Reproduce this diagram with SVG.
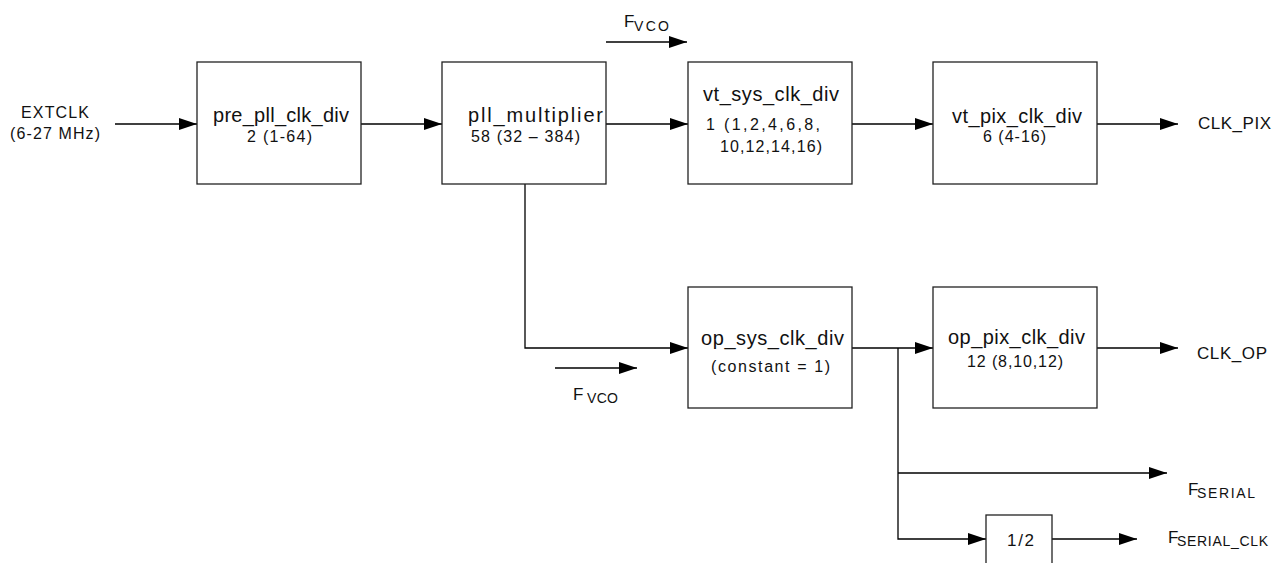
<svg xmlns="http://www.w3.org/2000/svg" width="1281" height="563" viewBox="0 0 1281 563">
<defs>
<marker id="ah" markerUnits="userSpaceOnUse" markerWidth="18" markerHeight="12" refX="18" refY="6" orient="auto">
<path d="M0,0 L18,6 L0,12 Z" fill="#000"/>
</marker>
<style>
.box{fill:#fff;stroke:#222;stroke-width:1.3}
.c{fill:none;stroke:#000;stroke-width:1.3;marker-end:url(#ah)}
text{font-family:"Liberation Sans","Open Sans",sans-serif;fill:#111}
.t1{font-size:20px}
.t2{font-size:16px}
.lb{font-size:17px}
.sub{font-size:14px}
</style>
</defs>
<rect width="1281" height="563" fill="#fff"/>
<g id="connectors">
<line class="c" x1="115" y1="124" x2="197" y2="124"/>
<line class="c" x1="361" y1="124" x2="442" y2="124"/>
<line class="c" x1="606" y1="124" x2="688" y2="124"/>
<line class="c" x1="852" y1="124" x2="933" y2="124"/>
<line class="c" x1="1097" y1="124" x2="1178" y2="124"/>
<line class="c" x1="606" y1="42" x2="687" y2="42"/>
<polyline class="c" points="525,184 525,348 688,348"/>
<line class="c" x1="555" y1="368" x2="637" y2="368"/>
<line class="c" x1="852" y1="348" x2="933" y2="348"/>
<line class="c" x1="1097" y1="348" x2="1178" y2="348"/>
<polyline class="c" points="898,348 898,539 986,539"/>
<line class="c" x1="898" y1="473" x2="1167" y2="473"/>
<line class="c" x1="1052" y1="539" x2="1137" y2="539"/>
</g>
<g id="extclk">
<text class="t2" x="21" y="118" textLength="68" lengthAdjust="spacing">EXTCLK</text>
<text class="t2" x="10" y="139" textLength="90" lengthAdjust="spacing">(6-27 MHz)</text>
</g>
<g id="pre_pll_clk_div">
<rect class="box" x="197" y="62" width="164" height="122"/>
<text class="t1" x="213" y="122" textLength="136" lengthAdjust="spacing">pre_pll_clk_div</text>
<text class="t2" x="247" y="141.5" textLength="65" lengthAdjust="spacing">2 (1-64)</text>
</g>
<g id="pll_multiplier">
<rect class="box" x="442" y="62" width="164" height="122"/>
<text class="t1" x="468" y="121.5" textLength="135" lengthAdjust="spacing">pll_multiplier</text>
<text class="t2" x="471" y="141.5" textLength="109" lengthAdjust="spacing">58 (32 – 384)</text>
</g>
<g id="vt_sys_clk_div">
<rect class="box" x="688" y="62" width="164" height="122"/>
<text class="t1" x="703" y="101" textLength="136" lengthAdjust="spacing">vt_sys_clk_div</text>
<text class="t2" x="706" y="130" textLength="114" lengthAdjust="spacing">1 (1,2,4,6,8,</text>
<text class="t2" x="720" y="151.5" textLength="102" lengthAdjust="spacing">10,12,14,16)</text>
</g>
<g id="vt_pix_clk_div">
<rect class="box" x="933" y="62" width="164" height="122"/>
<text class="t1" x="952" y="123" textLength="130" lengthAdjust="spacing">vt_pix_clk_div</text>
<text class="t2" x="983" y="142" textLength="63" lengthAdjust="spacing">6 (4-16)</text>
</g>
<g id="clk_pix">
<text class="lb" x="1198" y="129" textLength="73" lengthAdjust="spacing">CLK_PIX</text>
</g>
<g id="fvco_top">
<text class="lb" x="624" y="27.3">F</text>
<text class="sub" x="634" y="30.7" textLength="35" lengthAdjust="spacing">VCO</text>
</g>
<g id="op_sys_clk_div">
<rect class="box" x="688" y="287" width="164" height="121"/>
<text class="t1" x="701" y="345" textLength="143" lengthAdjust="spacing">op_sys_clk_div</text>
<text class="t2" x="711" y="371.7" textLength="119" lengthAdjust="spacing">(constant = 1)</text>
</g>
<g id="fvco_bottom">
<text class="lb" x="573" y="399.5">F</text>
<text class="sub" x="587" y="402.7" textLength="31" lengthAdjust="spacing">VCO</text>
</g>
<g id="op_pix_clk_div">
<rect class="box" x="933" y="287" width="164" height="121"/>
<text class="t1" x="948" y="343.5" textLength="137" lengthAdjust="spacing">op_pix_clk_div</text>
<text class="t2" x="967" y="366.5" textLength="96" lengthAdjust="spacing">12 (8,10,12)</text>
</g>
<g id="clk_op">
<text class="lb" x="1197" y="359" textLength="70" lengthAdjust="spacing">CLK_OP</text>
</g>
<g id="f_serial">
<text class="lb" x="1188" y="495">F</text>
<text class="sub" x="1197" y="497.5" textLength="58" lengthAdjust="spacing">SERIAL</text>
</g>
<g id="half">
<rect class="box" x="986" y="515" width="66" height="60"/>
<text class="lb" x="1007" y="546" textLength="27" lengthAdjust="spacing">1/2</text>
</g>
<g id="f_serial_clk">
<text class="lb" x="1168" y="543.3">F</text>
<text class="sub" x="1177" y="546" textLength="91" lengthAdjust="spacing">SERIAL_CLK</text>
</g>
</svg>
